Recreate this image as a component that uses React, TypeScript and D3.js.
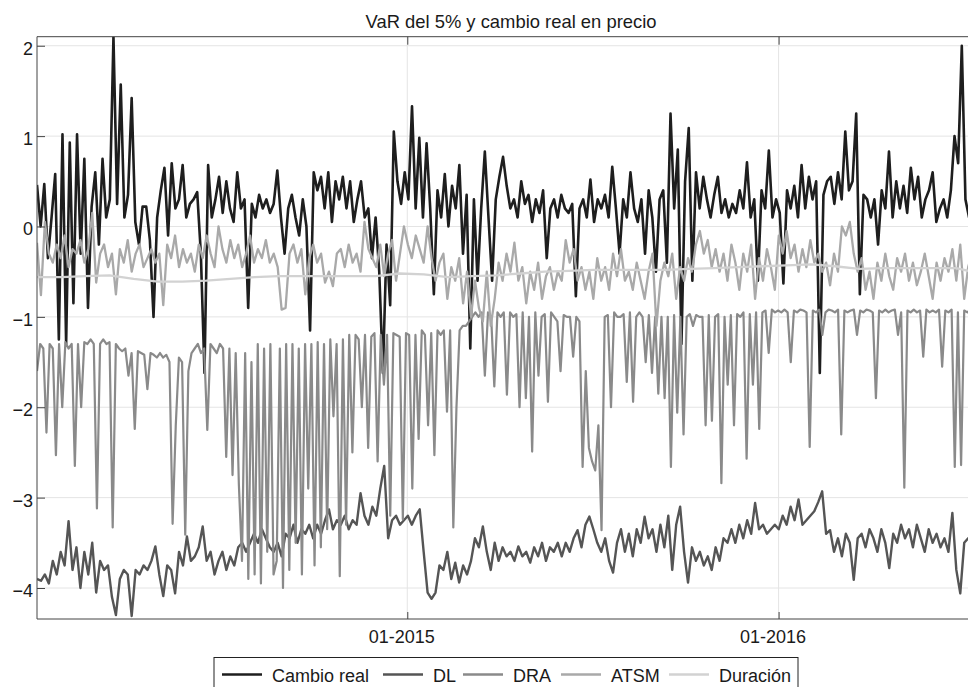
import { useEffect, useRef } from 'react';
import * as d3 from 'd3';

// Serie diaria: los valores se reparten de forma uniforme entre estas dos fechas
const startDate = '2014-01-02';
const endDate = '2016-07-17';
const xTickDates = ['2015-01-01', '2016-01-01'];
const yTickValues = [-4, -3, -2, -1, 0, 1, 2];
const chartTitle = 'VaR del 5% y cambio real en precio';
const seriesNames = ['Cambio real', 'DL', 'DRA', 'ATSM', 'Duración'];

const cambioReal = [
  0.46, 0.0, 0.47, -0.35, 0.1, 0.58, -1.25, 1.02, -1.3, 0.93,
  -0.85, 1.02, -0.3, 0.75, -0.9, 0.22, 0.6, -0.2, 0.75, 0.1,
  0.3, 2.1, 0.25, 1.57, 0.1, 0.35, 1.42, 0.05, -0.2, 0.22,
  0.22, -0.15, -1.0, 0.1, 0.4, 0.65, -0.1, 0.7, 0.2, 0.3,
  0.68, 0.1, 0.25, 0.3, 0.38, -0.3, -1.62, 0.68, 0.1, 0.3,
  0.55, 0.15, 0.5, 0.2, 0.05, 0.6, 0.2, 0.3, -0.9, 0.25,
  0.1, 0.35, 0.2, 0.3, 0.15, 0.25, 0.62, 0.1, -0.3, 0.2,
  0.35, 0.1, -0.1, 0.3, 0.0, -1.15, 0.6, 0.4, 0.55, 0.2,
  0.6, 0.05, 0.5, 0.3, 0.55, 0.2, 0.5, 0.05, 0.3, 0.5,
  0.1, 0.2, -0.35, 0.1, -0.5, -1.62, -0.2, -0.87, 1.05, 0.5,
  0.25, 0.6, 0.3, 1.33, 0.2, 0.98, 0.1, 0.92, 0.2, -0.75,
  0.4, 0.1, 0.58, 0.0, 0.45, 0.2, 0.68, -0.3, 0.35, -1.35,
  0.3, -0.6, 0.2, 0.83, 0.1, -0.6, 0.3, 0.55, 0.77, 0.45,
  0.2, 0.3, 0.1, 0.5, 0.25, 0.35, 0.05, 0.3, 0.15, 0.4,
  -0.35, 0.2, 0.3, 0.1, 0.35, 0.2, 0.15, 0.25, -0.77, 0.2,
  0.3, 0.1, 0.52, 0.05, 0.3, 0.2, 0.35, 0.1, 0.66, 0.2,
  -0.3, 0.3, 0.1, 0.6, 0.2, 0.05, 0.3, -0.3, 0.4, 0.1,
  -0.5, 0.3, 0.4, -0.4, 1.25, 0.2, 0.85, -1.3, 0.5, 1.09,
  -0.6, 0.6, 0.2, 0.55, 0.3, 0.1, 0.35, 0.55, 0.15, 0.3,
  0.1, 0.25, 0.15, 0.4, 0.2, 0.71, 0.1, 0.3, -0.6, 0.4,
  0.2, 0.84, 0.1, 0.3, 0.15, -0.63, 0.4, 0.2, 0.45, 0.1,
  0.68, 0.2, 0.55, 0.3, 0.5, -1.62, 0.35, 0.5, 0.55, 0.25,
  0.6, 0.3, 1.05, 0.4, 0.5, 1.25, -0.75, 0.35, 0.3, 0.1,
  0.3, -0.2, 0.4, 0.2, 0.83, 0.1, 0.5, 0.2, 0.45, 0.15,
  0.65, 0.3, 0.55, 0.1, 0.3, 0.4, 0.6, 0.05, 0.2, 0.3,
  0.1, 0.4, 1.0, 0.7, 2.0, 0.3, 0.1, 0.2, 0.0, 0.1,
];

const dl = [
  -3.9, -3.92, -3.85, -3.95, -3.7, -3.85, -3.6, -3.75, -3.26, -3.8,
  -3.55, -4.0, -3.6, -3.85, -3.5, -4.05, -3.7, -3.8, -3.75, -4.1,
  -4.3, -3.9, -3.8, -3.85, -4.31, -3.8, -3.85, -3.75, -3.8, -3.7,
  -3.54, -3.85, -4.09, -3.75, -3.8, -4.06, -3.6, -3.75, -3.43, -3.7,
  -3.65, -3.55, -3.32, -3.7, -3.6, -3.85, -3.7, -3.6, -3.8, -3.65,
  -3.75, -3.55, -3.5, -3.6, -3.5, -3.4, -3.5, -3.35, -3.45, -3.55,
  -3.6, -3.5, -3.65, -3.4, -3.45, -3.3, -3.5, -3.35, -3.4, -3.3,
  -3.45, -3.3, -3.4, -3.25, -3.13, -3.35, -3.25, -3.3, -3.2, -3.35,
  -3.25, -3.3, -2.95, -3.2, -3.3, -3.1, -3.2, -2.9, -2.65, -3.45,
  -3.25, -3.2, -3.3, -3.25, -3.2, -3.3, -3.2, -3.13, -3.6, -4.05,
  -4.12, -4.05, -3.75, -3.8, -3.6, -3.9, -3.72, -3.94, -3.75, -3.85,
  -3.7, -3.45, -3.55, -3.32, -3.6, -3.8, -3.5, -3.7, -3.55, -3.65,
  -3.6, -3.7, -3.54, -3.65, -3.6, -3.72, -3.55, -3.65, -3.5, -3.7,
  -3.55, -3.6, -3.5, -3.65, -3.5, -3.6, -3.45, -3.36, -3.55, -3.3,
  -3.21, -3.35, -3.5, -3.6, -3.45, -3.7, -3.83, -3.5, -3.35, -3.6,
  -3.4, -3.65, -3.35, -3.5, -3.21, -3.45, -3.35, -3.6, -3.3, -3.55,
  -3.2, -3.8, -3.3, -3.1, -3.6, -3.94, -3.55, -3.7, -3.6, -3.75,
  -3.65, -3.8, -3.55, -3.7, -3.45, -3.5, -3.35, -3.5, -3.3, -3.45,
  -3.25, -3.4, -3.06, -3.35, -3.3, -3.4, -3.35, -3.3, -3.35, -3.2,
  -3.3, -3.1, -3.25, -3.02, -3.3, -3.25, -3.2, -3.15, -3.05, -2.93,
  -3.4, -3.36, -3.6, -3.45, -3.65, -3.4, -3.5, -3.91, -3.45, -3.4,
  -3.55, -3.35, -3.45, -3.6, -3.35, -3.5, -3.78, -3.4, -3.5, -3.3,
  -3.45, -3.35, -3.55, -3.3, -3.45, -3.6, -3.35, -3.5, -3.4, -3.55,
  -3.45, -3.6, -3.17, -3.8, -4.06, -3.5, -3.45, -3.5, -3.45, -3.5,
];

const dra = [
  -1.6, -1.3, -1.35, -2.28, -1.3, -1.35, -2.53, -1.3, -2.0, -1.28,
  -1.35, -1.3, -2.65, -1.3, -2.0, -1.28, -1.3, -1.25, -1.3, -3.12,
  -1.3, -1.25, -1.3, -1.28, -3.33, -1.3, -1.35, -1.38, -1.35, -1.65,
  -1.4, -2.24, -1.38, -1.4, -1.42, -1.8, -1.4, -1.42, -1.45, -1.4,
  -1.45, -1.42, -1.5, -3.29, -2.2, -1.45, -1.5, -3.41, -1.6, -1.4,
  -1.35, -1.3, -1.4, -1.35, -2.25, -1.3, -1.35, -1.4, -1.3, -1.35,
  -2.55, -1.35, -2.75, -1.4, -2.85, -3.7, -1.4, -3.9, -1.5, -3.85,
  -1.3, -3.95, -1.35, -3.6, -1.3, -3.85, -3.7, -1.35, -4.0, -1.3,
  -3.8, -1.3, -3.5, -1.35, -3.85, -1.3, -2.9, -1.3, -3.75, -1.28,
  -3.55, -1.3, -3.35, -1.25, -2.1, -1.3, -3.87, -1.25, -3.3, -1.2,
  -2.5, -1.2, -1.25, -2.0, -1.2, -2.45, -1.22, -1.18, -2.6, -1.2,
  -1.75, -1.2, -3.2, -1.18, -1.2, -1.22, -3.24, -1.18, -1.2, -2.9,
  -1.2, -2.35, -1.15, -1.2, -2.2, -1.18, -2.53, -1.15, -1.2, -1.15,
  -2.05, -1.15, -3.33, -2.0, -1.15, -1.1, -1.1, -1.05, -1.0, -0.95,
  -1.0, -0.95, -1.65, -0.95, -1.0, -1.77, -0.95, -1.0, -0.95, -1.86,
  -0.95, -1.0, -0.97, -2.0, -0.95, -1.9, -1.0, -2.49, -0.95, -1.65,
  -1.0, -0.97, -1.94, -0.95, -1.0, -1.05, -1.6, -0.98, -1.0, -1.0,
  -1.44, -1.0, -1.05, -2.66, -1.6, -2.45, -2.6, -2.7, -2.2, -3.36,
  -1.0, -0.98, -2.0, -0.95, -1.0, -1.0, -0.97, -1.72, -0.95, -1.94,
  -1.0, -0.95, -1.0, -1.5, -0.98, -1.62, -1.0, -1.85, -1.0, -1.9,
  -1.0, -2.66, -0.98, -2.06, -1.0, -2.3, -1.0, -0.97, -1.1, -0.98,
  -1.0, -1.0, -2.2, -0.98, -2.15, -1.0, -0.97, -2.84, -1.0, -1.75,
  -0.98, -2.2, -0.97, -1.0, -0.95, -2.57, -0.97, -1.75, -0.95, -2.24,
  -0.95, -0.93, -1.4, -0.92, -0.95, -0.93, -0.95, -0.92, -0.95, -1.5,
  -0.93, -0.95, -0.92, -0.93, -0.95, -2.44, -0.93, -0.95, -0.92, -1.2,
  -0.95, -0.92, -0.93, -0.95, -0.92, -2.3, -0.93, -0.95, -0.93, -0.92,
  -1.2, -0.93, -0.95, -0.92, -0.93, -0.95, -1.9, -0.93, -0.95, -0.92,
  -0.95, -0.93, -0.92, -1.2, -0.95, -2.89, -0.93, -0.95, -0.92, -0.95,
  -0.93, -1.44, -0.92, -0.95, -0.93, -0.95, -0.92, -1.55, -0.93, -0.95,
  -0.92, -2.66, -0.95, -2.64, -0.93, -0.95, -0.92, -0.93, -0.95, -0.93,
];

const atsm = [
  -0.18, -0.76, 0.05, -0.3, -0.4, -0.2, -0.35, -0.1, -0.45, -0.25,
  -0.3, -0.15, -0.4, -0.25, 0.15, -0.62, -0.3, -0.2, -0.45, -0.3,
  -0.75, -0.25, -0.4, -0.15, -0.5, -0.3, -0.2, -0.45, -0.35, -0.25,
  -0.4, -0.3, -0.87, -0.2, -0.35, -0.1, -0.45, -0.25, -0.4, -0.3,
  -0.5, -0.2, -0.35, -0.1, -0.3, -0.45, 0.0, -0.25, -0.4, -0.15,
  -0.35, -0.2, -0.45, -0.3, -0.1, -0.4, -0.25, -0.35, -0.15, -0.4,
  -0.3, -0.45, -0.92, -0.9, -0.3, -0.2, -0.4, -0.25, -0.75, -0.35,
  -0.2, -0.4, -0.3, -0.62, -0.5, -0.66, -0.3, -0.25, -0.45, -0.2,
  -0.4, -0.3, -0.5, 0.05, -0.25, -0.35, -0.45, -0.2, -0.55, -0.3,
  -0.15, -0.6, -0.3, 0.0, -0.2, -0.35, -0.1, -0.25, -0.4, 0.0,
  -0.35, -0.6, -0.4, -0.3, -0.8, -0.45, -0.6, -0.35, -0.85, -0.5,
  -1.0, -0.6, -0.9, -1.05, -0.5, -1.1, -0.8, -0.4, -0.6, -0.3,
  -0.5, -0.18, -0.6, -0.45, -0.85, -0.5, -0.7, -0.4, -0.8, -0.55,
  -0.45, -0.7, -0.5, -0.6, -0.15, -0.4, -0.25, -0.6, -0.45, -0.7,
  -0.5, -0.8, -0.35, -0.6, -0.45, -0.7, -0.3, -0.55, -0.25, -0.6,
  -0.5, -0.7, -0.4, -0.6, -0.8, -0.5, -0.3, -1.1, -0.6, -0.4,
  -0.55, -0.3, -0.8, -0.45, -0.6, -0.35, -0.5, -0.2, -0.05, -0.3,
  -0.15, -0.45, -0.25, -0.5, -0.3, -0.6, -0.2, -0.4, -0.7, -0.3,
  -0.5, -0.2, -0.8, -0.35, -0.6, -0.25, -0.45, -0.7, -0.1, -0.3,
  -0.05, -0.35, -0.2, -0.5, -0.25, -0.45, -0.15, -0.4, -0.3, -0.5,
  -0.4, -0.65, -0.3, -0.5, 0.0, -0.1, 0.05, -0.3, -0.5, -0.35,
  -0.7, -0.5, -0.8, -0.4, -0.6, -0.3, -0.55, -0.7, -0.35, -0.5,
  -0.3, -0.6, -0.4, -0.65, -0.5, -0.3, -0.55, -0.8, -0.4, -0.6,
  -0.35, -0.5, -0.25, -0.6, -0.2, -0.8, -0.45, -0.3, -0.5, -0.55,
];

const duracion = [
  -0.56, -0.56, -0.55, -0.54, -0.58, -0.61, -0.61, -0.6, -0.58, -0.56,
  -0.55, -0.55, -0.55, -0.55, -0.55, -0.52, -0.53, -0.56, -0.55, -0.54,
  -0.52, -0.5, -0.49, -0.48, -0.48, -0.48, -0.48, -0.47, -0.46, -0.45,
  -0.44, -0.43, -0.42, -0.44, -0.47, -0.46, -0.46, -0.46, -0.46, -0.52,
];

const seriesValues = [cambioReal, dl, dra, atsm, duracion];
const seriesColors = ['#1e1e1e', '#555555', '#8a8a8a', '#a9a9a9', '#d2d2d2'];
const seriesWidths = [2.6, 2.4, 2.2, 2.3, 2.3];

const W = 968;
const H = 687;
const plot = { left: 37, right: 980, top: 36.7, bottom: 619 };
const FONT = "'Liberation Sans', Arial, Helvetica, sans-serif";

// posición de cada muestra de la leyenda (inicio de la línea)
const legendLineX = [222, 383, 463, 561, 669];

export default function App() {
  const svgRef = useRef<SVGSVGElement>(null);

  useEffect(() => {
    if (!svgRef.current) return;
    const svg = d3.select(svgRef.current);
    svg.selectAll('*').remove();

    const t0 = new Date(startDate + 'T00:00:00');
    const t1 = new Date(endDate + 'T00:00:00');

    const x = d3.scaleTime().domain([t0, t1]).range([plot.left, plot.right]);
    const y = d3.scaleLinear().domain([-4.343, 2.1]).range([plot.bottom, plot.top]);

    const timeAt = (i: number, n: number) =>
      new Date(t0.getTime() + ((t1.getTime() - t0.getTime()) * i) / (n - 1));

    svg.append('rect').attr('width', W).attr('height', H).attr('fill', '#fff');

    svg
      .append('defs')
      .append('clipPath')
      .attr('id', 'plot-clip')
      .append('rect')
      .attr('x', plot.left)
      .attr('y', plot.top)
      .attr('width', plot.right - plot.left)
      .attr('height', plot.bottom - plot.top);

    const xTicks = xTickDates.map((d) => new Date(d + 'T00:00:00'));

    // cuadrícula
    const grid = svg.append('g').attr('stroke', '#e4e4e4').attr('stroke-width', 1);
    grid
      .selectAll('line.h')
      .data(yTickValues)
      .enter()
      .append('line')
      .attr('x1', plot.left)
      .attr('x2', plot.right)
      .attr('y1', (d) => y(d))
      .attr('y2', (d) => y(d));
    grid
      .selectAll('line.v')
      .data(xTicks)
      .enter()
      .append('line')
      .attr('x1', (d) => x(d))
      .attr('x2', (d) => x(d))
      .attr('y1', plot.top)
      .attr('y2', plot.bottom);

    // series
    const lines = svg.append('g').attr('clip-path', 'url(#plot-clip)');
    seriesValues.forEach((vals, k) => {
      const n = vals.length;
      const line = d3
        .line<number>()
        .x((_, i) => x(timeAt(i, n)))
        .y((d) => y(d));
      lines
        .append('path')
        .attr('d', line(vals) || '')
        .attr('fill', 'none')
        .attr('stroke', seriesColors[k])
        .attr('stroke-width', seriesWidths[k])
        .attr('stroke-linejoin', 'round');
    });

    // ejes
    const axisColor = '#444';
    const gx = svg
      .append('g')
      .attr('transform', `translate(0,${plot.bottom})`)
      .call(
        d3
          .axisBottom<Date>(x)
          .tickValues(xTicks)
          .tickFormat(d3.timeFormat('%m-%Y'))
          .tickSize(-7)
          .tickSizeOuter(0)
          .tickPadding(11),
      );
    gx.select('.domain').remove();
    gx.selectAll('text').attr('dx', -6);

    const gTop = svg
      .append('g')
      .attr('transform', `translate(0,${plot.top})`)
      .call(d3.axisTop<Date>(x).tickValues(xTicks).tickFormat(() => '').tickSize(-8).tickSizeOuter(0));
    gTop.select('.domain').remove();

    const gy = svg
      .append('g')
      .attr('transform', `translate(${plot.left},0)`)
      .call(
        d3
          .axisLeft(y)
          .tickValues(yTickValues)
          .tickFormat((d) => (Number(d) < 0 ? '\u2212' + Math.abs(Number(d)) : String(d)))
          .tickSize(-8)
          .tickSizeOuter(0)
          .tickPadding(4),
      );
    gy.select('.domain').remove();
    gy.selectAll('text').attr('dy', '0.47em');

    [gx, gTop, gy].forEach((g) => {
      g.attr('font-family', FONT).attr('font-size', 18);
      g.selectAll('.tick line').attr('stroke', axisColor);
      g.selectAll('text').attr('fill', '#1a1a1a');
    });

    // marco
    svg
      .append('path')
      .attr('d', `M${plot.left},${plot.top}H${plot.right}V${plot.bottom}H${plot.left}Z`)
      .attr('fill', 'none')
      .attr('stroke', axisColor)
      .attr('stroke-width', 1);

    // título
    svg
      .append('text')
      .attr('x', 511)
      .attr('y', 28)
      .attr('text-anchor', 'middle')
      .attr('font-family', FONT)
      .attr('font-size', 18.4)
      .attr('fill', '#1a1a1a')
      .text(chartTitle);

    // leyenda
    const lg = svg.append('g');
    lg.append('rect')
      .attr('x', 214)
      .attr('y', 657.5)
      .attr('width', 584)
      .attr('height', 40)
      .attr('fill', '#fff')
      .attr('stroke', '#222')
      .attr('stroke-width', 1);
    seriesNames.forEach((name, k) => {
      const lx = legendLineX[k];
      lg.append('line')
        .attr('x1', lx)
        .attr('x2', lx + 40)
        .attr('y1', 674.5)
        .attr('y2', 674.5)
        .attr('stroke', seriesColors[k])
        .attr('stroke-width', 2.6);
      lg.append('text')
        .attr('x', lx + 50)
        .attr('y', 681.5)
        .attr('font-family', FONT)
        .attr('font-size', 18)
        .attr('fill', '#1a1a1a')
        .text(name);
    });
  }, []);

  return (
    <div style={{ position: 'absolute', left: 0, top: 0 }}>
      <svg ref={svgRef} width={W} height={H} style={{ display: 'block' }} />
    </div>
  );
}
